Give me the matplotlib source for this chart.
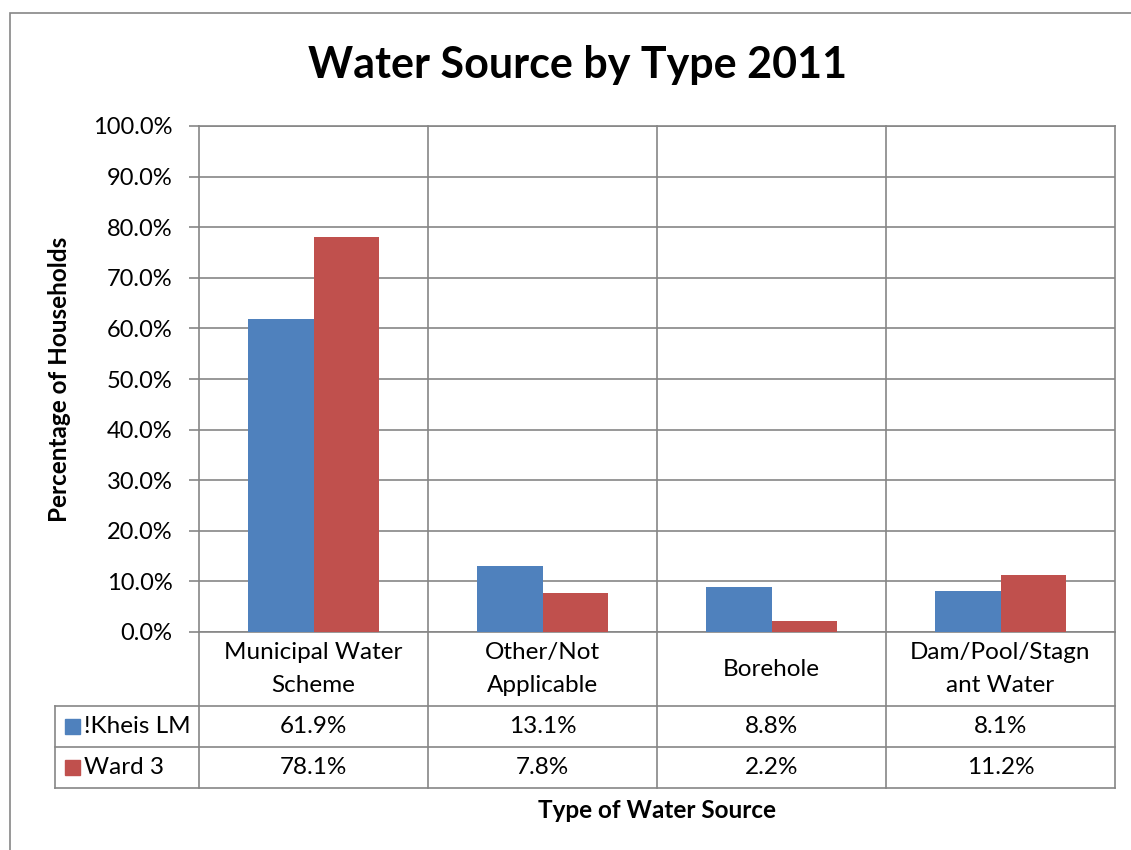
import matplotlib.pyplot as plt
from matplotlib.patches import Rectangle
from matplotlib.transforms import blended_transform_factory
import numpy as np

plt.rcParams['font.family'] = ['Lato', 'DejaVu Sans']

# Dados do gráfico
categorias = ["Municipal Water\nScheme", "Other/Not\nApplicable", "Borehole", "Dam/Pool/Stagn\nant Water"]
series = ["!Kheis LM", "Ward 3"]
kheis = [61.9, 13.1, 8.8, 8.1]
ward3 = [78.1, 7.8, 2.2, 11.2]
yticks = [0, 10, 20, 30, 40, 50, 60, 70, 80, 90, 100]

AZUL = "#4F81BD"
VERMELHO = "#C0504D"
CINZA = "#868686"
W, H = 1131, 850
FS = 17.5

fig = plt.figure(figsize=(W / 100, H / 100), dpi=100)
ax = fig.add_axes([199 / W, (H - 632) / H, (1115 - 199) / W, (632 - 126) / H])

# moldura externa do gráfico
fig.patches.append(Rectangle((10 / W, -0.1), 1.2, (H - 13) / H + 0.1,
                             transform=fig.transFigure, fill=False,
                             edgecolor=CINZA, linewidth=1.2))

x = np.arange(len(categorias))
largura = 0.284
ax.bar(x - largura / 2, kheis, largura, color=AZUL, zorder=3)
ax.bar(x + largura / 2, ward3, largura, color=VERMELHO, zorder=3)

ax.set_xlim(-0.5, len(categorias) - 0.5)
ax.set_ylim(0, 100)
ax.set_yticks(yticks)
ax.set_yticklabels([f"{v:.1f}%" for v in yticks], fontsize=17)
ax.tick_params(axis='y', length=7, width=1.2, color=CINZA, pad=12)
ax.set_xticks([])
ax.yaxis.grid(True, color=CINZA, linewidth=1.2, zorder=0)
for s in ax.spines.values():
    s.set_color(CINZA)
    s.set_linewidth(1.2)

fig.text(578 / W, 1 - 65 / H, "Water Source by Type 2011", ha='center', va='center',
         fontsize=31, fontweight='bold')
ax.set_ylabel("Percentage of Households", fontsize=17.5, fontweight='bold', labelpad=16)

# Tabela de dados abaixo do eixo
trans = blended_transform_factory(ax.transData, ax.transAxes)
altura = 632 - 126
y_cat = (632 - 706) / altura
y_r1 = (632 - 747) / altura
y_r2 = (632 - 788) / altura
x_esq = -0.5 - (199 - 55) / 229

linha = dict(color=CINZA, linewidth=1.2, clip_on=False, transform=trans)
for xb in np.arange(-0.5, len(categorias), 1.0):
    top = 1 if 0 < xb < len(categorias) - 1 else 0
    ax.plot([xb, xb], [y_r2, top], **linha)
for yb in (y_cat, y_r1, y_r2):
    ax.plot([x_esq, len(categorias) - 0.5], [yb, yb], **linha)
ax.plot([x_esq, x_esq], [y_cat, y_r2], **linha)

for i, c in enumerate(categorias):
    ax.text(i, y_cat / 2, c, ha='center', va='center', fontsize=FS,
            linespacing=1.65, transform=trans)

linhas = [(series[0], kheis, AZUL, (y_cat + y_r1) / 2),
          (series[1], ward3, VERMELHO, (y_r1 + y_r2) / 2)]
for nome, vals, cor, yc in linhas:
    for i, v in enumerate(vals):
        ax.text(i, yc, f"{v:.1f}%", ha='center', va='center', fontsize=FS,
                transform=trans)
    ax.add_patch(Rectangle((x_esq + 10 / 229, yc - 7.5 / altura), 15 / 229, 15 / altura,
                           color=cor, transform=trans, clip_on=False))
    ax.text(x_esq + 29 / 229, yc, nome, ha='left', va='center', fontsize=FS,
            transform=trans)

ax.text(len(categorias) / 2 - 0.5, (632 - 810) / altura, "Type of Water Source",
        ha='center', va='center', fontsize=17.5, fontweight='bold', transform=trans)

fig.savefig("out.png", dpi=100)
